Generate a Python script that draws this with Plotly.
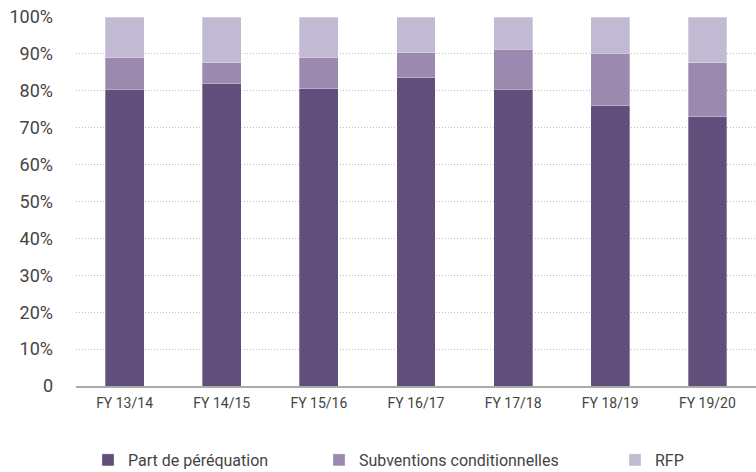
import plotly.graph_objects as go

# Funding mix by fiscal year (share of total, %)
years = ["FY 13/14", "FY 14/15", "FY 15/16", "FY 16/17", "FY 17/18", "FY 18/19", "FY 19/20"]
part_perequation = [80.4, 81.9, 80.6, 83.6, 80.4, 76.0, 73.0]
subventions = [8.5, 5.7, 8.4, 6.7, 10.8, 14.2, 14.6]
rfp = [11.1, 12.4, 11.0, 9.7, 8.8, 9.8, 12.4]

tick_vals = [0, 10, 20, 30, 40, 50, 60, 70, 80, 90, 100]
tick_text = ["0", "10%", "20%", "30%", "40%", "50%", "60%", "70%", "80%", "90%", "100%"]

series = [
    ("Part de péréquation", part_perequation, "#624e7a", "legend"),
    ("Subventions conditionnelles", subventions, "#9b89b0", "legend2"),
    ("RFP", rfp, "#c2b9d3", "legend3"),
]

FONT = "Roboto"
TEXT = "#444444"

fig = go.Figure()
for name, vals, color, leg in series:
    fig.add_trace(go.Bar(
        x=years, y=vals, name=name,
        marker=dict(color=color, line=dict(color="rgba(255,255,255,0.5)", width=0.6)),
        legend=leg, showlegend=True,
    ))

legend_common = dict(
    orientation="h", xref="container", yref="container",
    yanchor="middle", y=1 - 460 / 472, xanchor="left",
    font=dict(family=FONT, size=16, color=TEXT),
    bgcolor="rgba(0,0,0,0)", itemclick=False, visible=True,
)

fig.update_layout(
    barmode="stack",
    bargap=0.6,
    showlegend=True,
    width=756, height=472,
    margin=dict(l=76, r=0, t=17, b=86),
    paper_bgcolor="white", plot_bgcolor="white",
    font=dict(family=FONT, color=TEXT),
    legend=dict(legend_common, x=88 / 756),
    legend2=dict(legend_common, x=319 / 756),
    legend3=dict(legend_common, x=615 / 756),
    xaxis=dict(
        showgrid=False, showline=True, linecolor="#aaaaaa", linewidth=1.5,
        tickfont=dict(family=FONT, size=14, color=TEXT), ticks="",
        ticklabelstandoff=3,
    ),
    yaxis=dict(
        range=[0, 100], tickvals=tick_vals, ticktext=tick_text,
        showgrid=True, gridcolor="#bdbdbd", griddash="1px,2px", gridwidth=1,
        zeroline=False, showline=False, ticks="",
        tickfont=dict(family=FONT, size=18, color=TEXT),
        ticklabelstandoff=22,
    ),
)

fig.write_html("out.html")
